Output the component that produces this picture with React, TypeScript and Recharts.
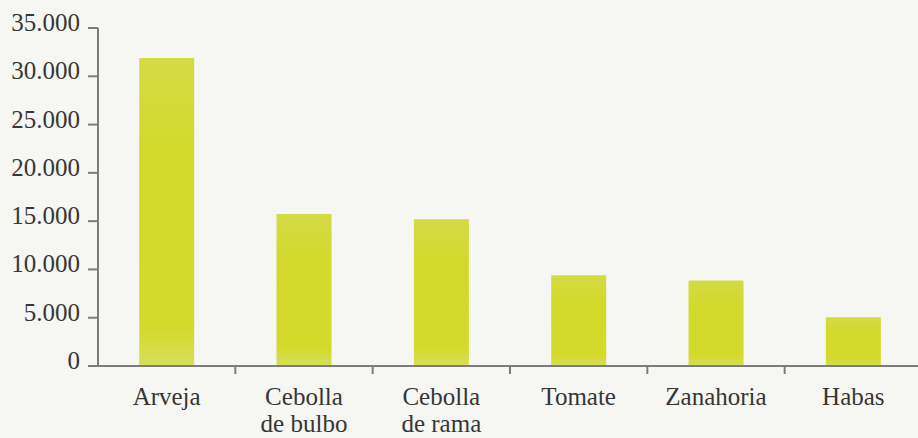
import { BarChart, Bar, XAxis, YAxis } from "recharts";

const categories = ["Arveja", "Cebolla\nde bulbo", "Cebolla\nde rama", "Tomate", "Zanahoria", "Habas"];
const values = [31900, 15750, 15200, 9400, 8850, 5050];
const yTicks = [0, 5000, 10000, 15000, 20000, 25000, 30000, 35000];

const data = categories.map((name, i) => ({ name, value: values[i] }));

const W = 918;
const H = 438;
const Y_AXIS_W = 98;
const RIGHT = -4;
const BAND = (W - Y_AXIS_W - RIGHT) / categories.length;
const FONT = "'Liberation Serif', 'Times New Roman', serif";
const TEXT = "#363636";
const AXIS = "#7c7c7c";

const fmt = (v: number) => String(v).replace(/\B(?=(\d{3})+(?!\d))/g, ".");

function XTick(props: any) {
  const { x, y, payload, index } = props;
  const lines = String(payload.value).split("\n");
  return (
    <g>
      {index < categories.length - 1 && (
        <line x1={x + BAND / 2} y1={y} x2={x + BAND / 2} y2={y + 8} stroke={AXIS} strokeWidth={2} />
      )}
      <text x={x} y={y + 39} textAnchor="middle" fontFamily={FONT} fontSize={25} fill={TEXT}>
        {lines.map((l, i) => (
          <tspan key={i} x={x} dy={i === 0 ? 0 : 27}>
            {l}
          </tspan>
        ))}
      </text>
    </g>
  );
}

function YTick(props: any) {
  const { x, y, payload } = props;
  return (
    <text x={x} y={y + 3} textAnchor="end" fontFamily={FONT} fontSize={25} fill={TEXT}>
      {fmt(payload.value)}
    </text>
  );
}

export default function App() {
  return (
    <div style={{ width: W, height: H, background: "#f6f6f3", overflow: "hidden" }}>
      <style>{`body{margin:0}`}</style>
      <BarChart width={W} height={H} data={data} margin={{ top: 28, right: RIGHT, left: 0, bottom: 0 }} barCategoryGap="30%">
        <defs>
          <linearGradient id="barFill" x1="0" y1="0" x2="0" y2="1">
            <stop offset="0%" stopColor="#d4db45" />
            <stop offset="30%" stopColor="#d2d92b" />
            <stop offset="88%" stopColor="#d3da2c" />
            <stop offset="100%" stopColor="#d7df5c" />
          </linearGradient>
        </defs>
        <XAxis
          dataKey="name"
          height={72}
          interval={0}
          tick={<XTick />}
          tickLine={false}
          tickSize={0}
          tickMargin={0}
          axisLine={{ stroke: AXIS, strokeWidth: 2 }}
        />
        <YAxis
          width={Y_AXIS_W}
          domain={[0, 35000]}
          ticks={yTicks}
          interval={0}
          tick={<YTick />}
          tickSize={10}
          tickMargin={8}
          tickLine={{ stroke: AXIS, strokeWidth: 2 }}
          axisLine={{ stroke: AXIS, strokeWidth: 2 }}
        />
        <Bar dataKey="value" fill="url(#barFill)" isAnimationActive={false} />
      </BarChart>
    </div>
  );
}
